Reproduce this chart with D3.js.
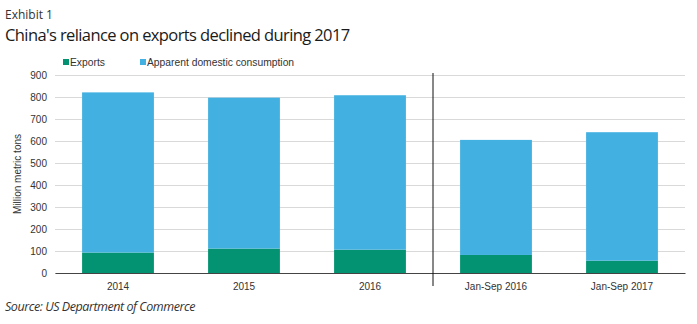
<!DOCTYPE html>
<html>
<head>
<meta charset="utf-8">
<script src="https://cdn.jsdelivr.net/npm/d3@7"></script>
<style>
	body { margin: 0; background: #fff; }
	svg { display: block; }
</style>
</head>
<body>
<div id="chart"></div>
<script>
// Data
var categories = ['2014', '2015', '2016', 'Jan-Sep 2016', 'Jan-Sep 2017'];
var exportsValues = [93, 111, 106, 82, 56];
var consumptionValues = [728, 686, 702, 523, 584];
var yTicks = [0, 100, 200, 300, 400, 500, 600, 700, 800, 900];
var seriesNames = ['Exports', 'Apparent domestic consumption'];
var seriesColors = ['#039372', '#42b1e1'];

var attrs = {
	svgWidth: 697,
	svgHeight: 324,
	marginLeft: 55,
	marginRight: 12,
	marginTop: 75,
	plotBottom: 273,
	textFill: '#333',
	font: '"Liberation Sans", Arial, sans-serif'
};

var svg = d3.select('#chart').append('svg')
	.attr('width', attrs.svgWidth)
	.attr('height', attrs.svgHeight);

var x = d3.scaleBand()
	.domain(categories)
	.range([attrs.marginLeft, attrs.svgWidth - attrs.marginRight])
	.paddingInner(0.43)
	.paddingOuter(0.215);

var y = d3.scaleLinear()
	.domain([0, 900])
	.range([attrs.plotBottom, attrs.marginTop]);

// Titles
svg.append('text')
	.attr('x', 5).attr('y', 19)
	.attr('font-family', '"Open Sans", sans-serif')
	.attr('font-size', 12)
	.attr('fill', '#333')
	.text('Exhibit 1');

svg.append('text')
	.attr('x', 5).attr('y', 41)
	.attr('font-family', '"Open Sans", sans-serif')
	.attr('font-size', 16.5)
	.attr('letter-spacing', -0.6)
	.attr('fill', '#1a1a1a')
	.text("China's reliance on exports declined during 2017");

// Gridlines and y ticks
var yAxis = d3.axisLeft(y)
	.tickValues(yTicks)
	.tickSize(-(attrs.svgWidth - attrs.marginRight - attrs.marginLeft))
	.tickPadding(8);

var yG = svg.append('g')
	.attr('transform', 'translate(' + attrs.marginLeft + ',0)')
	.call(yAxis);
yG.select('.domain').remove();
yG.selectAll('.tick line').attr('stroke', '#d9d9d9');
yG.selectAll('.tick text')
	.attr('font-family', attrs.font)
	.attr('font-size', 10)
	.attr('fill', attrs.textFill);

svg.append('text')
	.attr('transform', 'translate(21,' + ((attrs.plotBottom + attrs.marginTop) / 2) + ') rotate(-90)')
	.attr('text-anchor', 'middle')
	.attr('font-family', attrs.font)
	.attr('font-size', 10)
	.attr('fill', attrs.textFill)
	.text('Million metric tons');

// Stacked bars
var rows = categories.map(function (c, i) {
	return { category: c, Exports: exportsValues[i], 'Apparent domestic consumption': consumptionValues[i] };
});
var stacked = d3.stack().keys(seriesNames)(rows);

svg.selectAll('.series')
	.data(stacked)
	.enter().append('g')
	.attr('class', 'series')
	.attr('fill', function (d, i) { return seriesColors[i]; })
	.selectAll('rect')
	.data(function (d) { return d; })
	.enter().append('rect')
	.attr('x', function (d) { return x(d.data.category); })
	.attr('width', x.bandwidth())
	.attr('y', function (d) { return y(d[1]); })
	.attr('height', function (d) { return y(d[0]) - y(d[1]); });

// x axis
var xG = svg.append('g')
	.attr('transform', 'translate(0,' + attrs.plotBottom + ')')
	.call(d3.axisBottom(x).tickSize(0).tickPadding(10));
xG.select('.domain').attr('stroke', '#444').attr('stroke-width', 1.2);
xG.selectAll('.tick text')
	.attr('font-family', attrs.font)
	.attr('font-size', 10)
	.attr('fill', attrs.textFill);

// Divider between full years and partial years
var dividerX = x('Jan-Sep 2016') - x.step() * x.paddingInner() / 2;
svg.append('line')
	.attr('x1', dividerX).attr('x2', dividerX)
	.attr('y1', attrs.marginTop - 2).attr('y2', attrs.plotBottom + 13)
	.attr('stroke', '#111')
	.attr('stroke-width', 1);

// Legend
var legend = svg.selectAll('.legend')
	.data(seriesNames)
	.enter().append('g')
	.attr('class', 'legend')
	.attr('transform', function (d, i) { return 'translate(' + [63, 140][i] + ',59)'; });
legend.append('rect')
	.attr('width', 6).attr('height', 6)
	.attr('fill', function (d, i) { return seriesColors[i]; });
legend.append('text')
	.attr('x', 7).attr('y', 6.5)
	.attr('font-family', attrs.font)
	.attr('font-size', 10.3)
	.attr('fill', attrs.textFill)
	.text(function (d) { return d; });

// Source
svg.append('text')
	.attr('x', 5).attr('y', 311)
	.attr('font-family', '"Open Sans", sans-serif')
	.attr('font-style', 'italic')
	.attr('font-size', 12.5)
	.attr('letter-spacing', -0.45)
	.attr('fill', '#333')
	.text('Source: US Department of Commerce');
</script>
</body>
</html>
